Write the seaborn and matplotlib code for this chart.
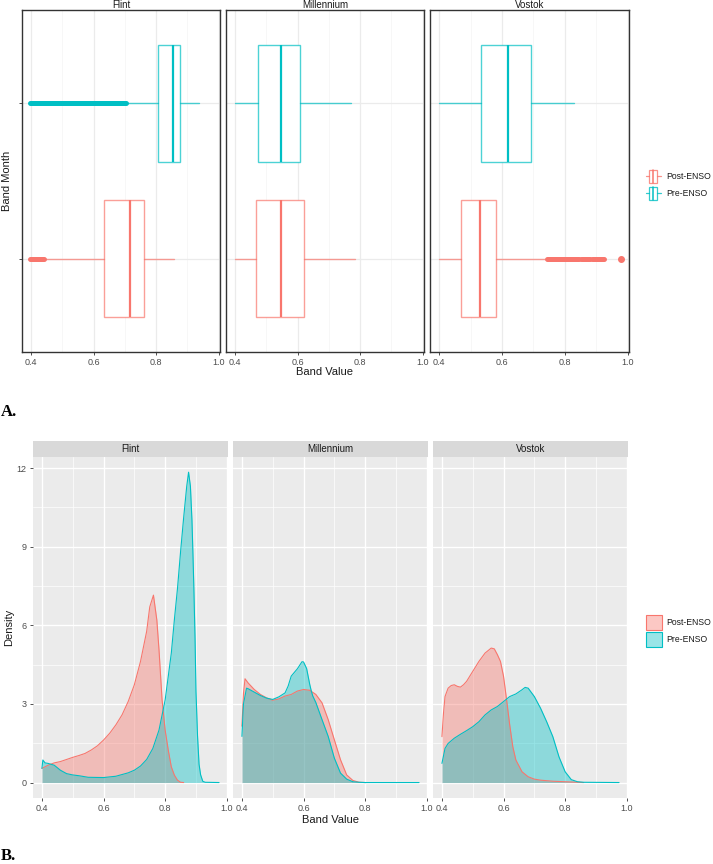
import numpy as np
import pandas as pd
import seaborn as sns
import matplotlib
matplotlib.use('Agg')
import matplotlib.pyplot as plt
from matplotlib.patches import Rectangle
from matplotlib.colors import to_rgba

# ---- data ----
sites = ['Flint', 'Millennium', 'Vostok']
groups = ['Post-ENSO', 'Pre-ENSO']
palette = {'Post-ENSO': '#F8766D', 'Pre-ENSO': '#00BFC4'}

# box stats per site (Flint, Millennium, Vostok)
post_lo = [0.442, 0.400, 0.400]
post_q1 = [0.632, 0.467, 0.469]
post_med = [0.717, 0.547, 0.530]
post_q3 = [0.762, 0.621, 0.581]
post_hi = [0.858, 0.785, 0.739]

pre_lo = [0.703, 0.400, 0.400]
pre_q1 = [0.807, 0.473, 0.533]
pre_med = [0.853, 0.547, 0.618]
pre_q3 = [0.877, 0.607, 0.692]
pre_hi = [0.938, 0.770, 0.828]

# outliers: dense runs drawn as spans, plus single points
post_flier_spans = [[(0.398, 0.440)], [], [(0.743, 0.845), (0.850, 0.880), (0.885, 0.926)]]
post_flier_points = [[], [], [0.977]]
pre_flier_spans = [[(0.398, 0.703)], [], []]
pre_flier_points = [[], [], []]

# density curves
flint_post_x = [0.40, 0.42, 0.44, 0.46, 0.48, 0.50, 0.52, 0.54, 0.56, 0.58, 0.60, 0.62, 0.64, 0.66, 0.68,
                0.70, 0.72, 0.74, 0.75, 0.762, 0.773, 0.78, 0.79, 0.80, 0.81, 0.82, 0.83, 0.84, 0.85, 0.86]
flint_post_y = [0.54, 0.66, 0.75, 0.80, 0.88, 0.96, 1.03, 1.11, 1.24, 1.40, 1.62, 1.88, 2.20, 2.58, 3.09,
                3.73, 4.62, 5.77, 6.70, 7.15, 6.20, 5.07, 3.15, 2.00, 1.24, 0.60, 0.28, 0.09, 0.01, 0.0]
flint_pre_x = [0.40, 0.403, 0.41, 0.42, 0.44, 0.46, 0.48, 0.50, 0.52, 0.55, 0.60, 0.64, 0.68, 0.70, 0.72,
               0.74, 0.76, 0.78, 0.80, 0.82, 0.83, 0.84, 0.85, 0.86, 0.87, 0.876, 0.882, 0.887, 0.89,
               0.893, 0.897, 0.90, 0.905, 0.91, 0.915, 0.922, 0.93, 0.975]
flint_pre_y = [0.54, 0.86, 0.75, 0.73, 0.66, 0.47, 0.34, 0.29, 0.26, 0.20, 0.19, 0.24, 0.37, 0.47, 0.63,
               0.88, 1.30, 2.00, 3.15, 4.94, 6.22, 7.40, 8.80, 10.1, 11.3, 11.84, 11.3, 10.0, 8.8,
               7.5, 5.5, 3.5, 1.8, 0.7, 0.3, 0.05, 0.01, 0.0]

mill_post_x = [0.40, 0.405, 0.41, 0.42, 0.44, 0.46, 0.48, 0.50, 0.52, 0.54, 0.56, 0.58, 0.60, 0.62,
               0.64, 0.66, 0.68, 0.70, 0.72, 0.74, 0.76, 0.78, 0.80]
mill_post_y = [2.15, 3.40, 3.96, 3.80, 3.55, 3.36, 3.23, 3.14, 3.19, 3.30, 3.36, 3.49, 3.55, 3.52,
               3.36, 3.04, 2.40, 1.63, 0.87, 0.29, 0.08, 0.01, 0.0]
mill_pre_x = [0.40, 0.405, 0.415, 0.42, 0.44, 0.46, 0.48, 0.50, 0.52, 0.54, 0.55, 0.56, 0.58, 0.595,
              0.60, 0.61, 0.62, 0.625, 0.63, 0.64, 0.66, 0.68, 0.70, 0.72, 0.74, 0.76, 0.78, 0.80, 0.975]
mill_pre_y = [1.76, 3.00, 3.60, 3.58, 3.45, 3.32, 3.22, 3.17, 3.27, 3.42, 3.68, 4.06, 4.34, 4.61,
              4.60, 4.35, 3.75, 3.50, 3.30, 3.05, 2.40, 1.76, 0.93, 0.36, 0.13, 0.03, 0.01, 0.0, 0.0]

vostok_post_x = [0.40, 0.405, 0.41, 0.42, 0.43, 0.44, 0.45, 0.46, 0.47, 0.48, 0.50, 0.52, 0.54, 0.56,
                 0.57, 0.58, 0.59, 0.60, 0.61, 0.62, 0.63, 0.64, 0.66, 0.68, 0.70, 0.72, 0.76, 0.80,
                 0.84, 0.86]
vostok_post_y = [1.75, 2.64, 3.28, 3.60, 3.70, 3.73, 3.67, 3.64, 3.73, 3.86, 4.24, 4.62, 4.94, 5.13,
                 5.10, 4.88, 4.62, 4.05, 3.15, 2.20, 1.37, 0.86, 0.41, 0.22, 0.13, 0.09, 0.05, 0.03,
                 0.01, 0.0]
vostok_pre_x = [0.40, 0.41, 0.42, 0.44, 0.46, 0.48, 0.50, 0.52, 0.54, 0.56, 0.58, 0.60, 0.62, 0.64,
                0.66, 0.67, 0.68, 0.70, 0.72, 0.74, 0.76, 0.78, 0.80, 0.82, 0.84, 0.86, 0.975]
vostok_pre_y = [0.73, 1.30, 1.49, 1.69, 1.84, 1.98, 2.13, 2.32, 2.58, 2.77, 2.90, 3.09, 3.28, 3.38,
                3.54, 3.63, 3.60, 3.28, 2.84, 2.32, 1.75, 0.98, 0.41, 0.11, 0.03, 0.01, 0.0]

x_ticks = [0.4, 0.6, 0.8, 1.0]
x_tick_labels = ['0.4', '0.6', '0.8', '1.0']
dens_ticks = [0, 3, 6, 9, 12]

curves = {
    ('Flint', 'Post-ENSO'): (flint_post_x, flint_post_y),
    ('Flint', 'Pre-ENSO'): (flint_pre_x, flint_pre_y),
    ('Millennium', 'Post-ENSO'): (mill_post_x, mill_post_y),
    ('Millennium', 'Pre-ENSO'): (mill_pre_x, mill_pre_y),
    ('Vostok', 'Post-ENSO'): (vostok_post_x, vostok_post_y),
    ('Vostok', 'Pre-ENSO'): (vostok_pre_x, vostok_pre_y),
}
rows = []
for (site, grp), (xs, ys) in curves.items():
    for xv, yv in zip(xs, ys):
        rows.append({'site': site, 'group': grp, 'band': xv, 'density': yv})
dens = pd.DataFrame(rows)

# ---- figure ----
sns.set_theme(style='white')
plt.rcParams['font.family'] = ['Liberation Sans', 'DejaVu Sans']

W, H = 713, 864
fig = plt.figure(figsize=(W / 100, H / 100), dpi=100)


def px_axes(x0, y0, x1, y1):
    return fig.add_axes([x0 / W, 1 - y1 / H, (x1 - x0) / W, (y1 - y0) / H])


XLIM = (0.371, 1.004)
tick_col = '#333333'
lab_col = '#4D4D4D'

# ---- A: boxplots ----
a_left = [22, 226, 430]
a_right = [220, 424, 629]
for i, site in enumerate(sites):
    ax = px_axes(a_left[i], 10, a_right[i], 352)
    ax.set_facecolor('white')
    ax.set_xlim(*XLIM)
    ax.set_ylim(0.4, 2.6)
    for v in [0.5, 0.7, 0.9]:
        ax.axvline(v, color='#F4F4F4', lw=0.5, zorder=0)
    for v in x_ticks:
        ax.axvline(v, color='#EBEBEB', lw=0.9, zorder=0)
    for v in [1, 2]:
        ax.axhline(v, color='#EBEBEB', lw=0.9, zorder=0)

    stats = {
        'Post-ENSO': dict(whislo=post_lo[i], q1=post_q1[i], med=post_med[i], q3=post_q3[i],
                          whishi=post_hi[i], fliers=[]),
        'Pre-ENSO': dict(whislo=pre_lo[i], q1=pre_q1[i], med=pre_med[i], q3=pre_q3[i],
                         whishi=pre_hi[i], fliers=[]),
    }
    spans = {'Post-ENSO': post_flier_spans[i], 'Pre-ENSO': pre_flier_spans[i]}
    points = {'Post-ENSO': post_flier_points[i], 'Pre-ENSO': pre_flier_points[i]}
    for pos, grp in zip([1, 2], groups):
        c = palette[grp]
        soft = to_rgba(c, 0.7)
        ax.bxp([stats[grp]], positions=[pos], widths=0.75, orientation='horizontal',
               showcaps=False, showfliers=False, patch_artist=True,
               boxprops=dict(facecolor='white', edgecolor=soft, lw=1.0),
               whiskerprops=dict(color=soft, lw=1.0),
               medianprops=dict(color=c, lw=1.6))
        for a, b in spans[grp]:
            ax.hlines(pos, a, b, color=c, lw=3.6, capstyle='round', zorder=3)
        if points[grp]:
            ax.plot(points[grp], [pos] * len(points[grp]), 'o', ms=4, color=c, zorder=3)

    for sp in ax.spines.values():
        sp.set_color('#333333')
        sp.set_linewidth(1.0)
    ax.set_xticks(x_ticks)
    ax.set_xticklabels(x_tick_labels)
    ax.set_yticks([1, 2])
    ax.set_yticklabels([])
    ax.tick_params(axis='x', length=2.5, width=0.6, color=tick_col, labelcolor=lab_col,
                   labelsize=6.5, pad=2, bottom=True)
    ax.tick_params(axis='y', length=2.5 if i == 0 else 0, width=0.6, color=tick_col, left=True)
    ax.set_xlabel('')
    ax.set_ylabel('')
    fig.text((a_left[i] + a_right[i]) / 2 / W, 1 - 4.5 / H, site, ha='center', va='center',
             fontsize=7, color='#1A1A1A')

fig.text(325 / W, 1 - 372 / H, 'Band Value', ha='center', va='center', fontsize=8, color='#1A1A1A')
fig.text(7 / W, 1 - 181 / H, 'Band Month', ha='center', va='center', rotation=90, fontsize=8,
         color='#1A1A1A')

# ---- B: densities ----
b_left = [33, 233, 433]
b_right = [228, 428, 628]
for i, site in enumerate(sites):
    ax = px_axes(b_left[i], 457, b_right[i], 798)
    ax.set_facecolor('#EBEBEB')
    ax.set_xlim(*XLIM)
    ax.set_ylim(-0.59, 12.42)
    for v in [0.5, 0.7, 0.9]:
        ax.axvline(v, color='white', lw=0.5, zorder=0)
    for v in x_ticks:
        ax.axvline(v, color='white', lw=1.0, zorder=0)
    for v in [1.5, 4.5, 7.5, 10.5]:
        ax.axhline(v, color='white', lw=0.5, zorder=0)
    for v in dens_ticks:
        ax.axhline(v, color='white', lw=1.0, zorder=0)

    sub = dens[dens['site'] == site]
    for grp in groups:
        g = sub[sub['group'] == grp]
        ax.fill_between(g['band'], 0, g['density'], color=palette[grp], alpha=0.4, lw=0, zorder=2)
        sns.lineplot(data=g, x='band', y='density', color=palette[grp], lw=0.8, sort=False,
                     estimator=None, ax=ax, zorder=3)
    for sp in ax.spines.values():
        sp.set_visible(False)
    ax.set_xticks(x_ticks)
    ax.set_xticklabels(x_tick_labels)
    ax.set_yticks(dens_ticks)
    if i == 0:
        ax.set_yticklabels([str(t) for t in dens_ticks])
    else:
        ax.set_yticklabels([])
    ax.tick_params(axis='x', length=2.5, width=0.6, color=tick_col, labelcolor=lab_col,
                   labelsize=6.5, pad=2, bottom=True)
    ax.tick_params(axis='y', length=2.5 if i == 0 else 0, width=0.6, color=tick_col,
                   labelcolor=lab_col, labelsize=6.5, pad=2, left=True)
    ax.set_xlabel('')
    ax.set_ylabel('')

    strip = px_axes(b_left[i], 441, b_right[i], 457)
    strip.set_facecolor('#D9D9D9')
    strip.set_xticks([])
    strip.set_yticks([])
    for sp in strip.spines.values():
        sp.set_visible(False)
    strip.text(0.5, 0.5, site, ha='center', va='center', fontsize=7, color='#1A1A1A',
               transform=strip.transAxes)

fig.text(330 / W, 1 - 820 / H, 'Band Value', ha='center', va='center', fontsize=8, color='#1A1A1A')
fig.text(9 / W, 1 - 627 / H, 'Density', ha='center', va='center', rotation=90, fontsize=8,
         color='#1A1A1A')

# ---- legends and panel letters, drawn in pixel coordinates ----
over = fig.add_axes([0, 0, 1, 1])
over.set_xlim(0, W)
over.set_ylim(H, 0)
over.axis('off')
over.patch.set_alpha(0)

for k, grp in enumerate(groups):
    c = palette[grp]
    yc = [176.3, 193.3][k]
    over.add_patch(Rectangle((649, yc - 6.2), 8.3, 12.4, facecolor='white',
                             edgecolor=to_rgba(c, 0.8), lw=0.9))
    over.plot([653.2, 653.2], [yc - 6.2, yc + 6.2], color=c, lw=1.1)
    over.plot([645.5, 649], [yc, yc], color=to_rgba(c, 0.8), lw=0.9)
    over.plot([657.3, 661], [yc, yc], color=to_rgba(c, 0.8), lw=0.9)
    over.text(666, yc, grp, ha='left', va='center', fontsize=6.2, color='#1A1A1A')

for k, grp in enumerate(groups):
    c = palette[grp]
    y0 = [614.5, 631.5][k]
    over.add_patch(Rectangle((646, y0), 15.5, 15.5, facecolor=to_rgba(c, 0.4),
                             edgecolor=c, lw=0.8))
    over.text(666, y0 + 7.8, grp, ha='left', va='center', fontsize=6.2, color='#1A1A1A')

over.text(1, 412, 'A.', ha='left', va='center', fontsize=12, fontweight='bold',
          family='Liberation Serif', color='black')
over.text(1, 856, 'B.', ha='left', va='center', fontsize=12, fontweight='bold',
          family='Liberation Serif', color='black')

fig.savefig('out.png', dpi=100)
